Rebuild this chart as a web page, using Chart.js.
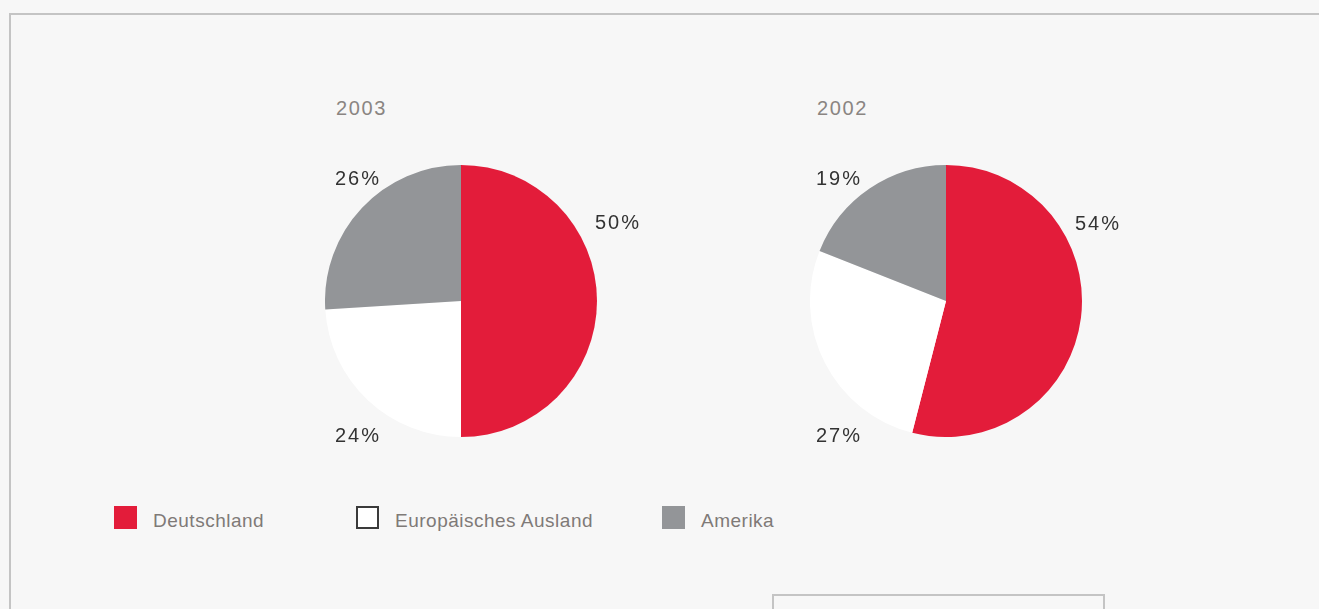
<!DOCTYPE html>
<html>
<head>
<meta charset="utf-8">
<script src="https://cdn.jsdelivr.net/npm/chart.js@4"></script>
<style>
  html, body { margin:0; padding:0; background:#f7f7f7; width:1319px; height:609px; overflow:hidden; font-family:"Liberation Sans", Arial, sans-serif; }
  .frame { position:absolute; left:9px; top:13px; width:1320px; height:620px; border-top:2px solid #c4c4c4; border-left:2px solid #c4c4c4; box-sizing:border-box; }
  .box { position:absolute; left:772px; top:594px; width:333px; height:40px; border:2px solid #c4c4c4; box-sizing:border-box; }
  .pie { position:absolute; width:272px; height:272px; }
  .t { position:absolute; line-height:20px; white-space:nowrap; }
  .year { color:#8a8582; font-size:20px; letter-spacing:1.6px; }
  .pct { color:#333333; font-size:20px; letter-spacing:2px; }
  .leg { color:#7f7a77; font-size:19px; letter-spacing:0.5px; }
  .sw { position:absolute; width:23px; height:23px; box-sizing:border-box; }
</style>
</head>
<body>
<div class="frame"></div>
<div class="box"></div>
<div class="pie" style="left:325px;top:165px"><canvas id="c1"></canvas></div>
<div class="pie" style="left:810px;top:165px"><canvas id="c2"></canvas></div>
<div id="texts"></div>
<script>
const categories = ["Deutschland", "Europäisches Ausland", "Amerika"];
const years = ["2003", "2002"];
const values2003 = [50, 24, 26];
const values2002 = [54, 27, 19];
const colors = ["#e31c3a", "#ffffff", "#939598"];

function makePie(id, values) {
  return new Chart(document.getElementById(id), {
    type: "pie",
    data: { labels: categories, datasets: [{ data: values, backgroundColor: colors, borderWidth: 0 }] },
    options: {
      responsive: true, maintainAspectRatio: false, animation: false,
      layout: { padding: 0 },
      plugins: { legend: { display: false }, tooltip: { enabled: false } }
    }
  });
}
makePie("c1", values2003);
makePie("c2", values2002);

const T = document.getElementById("texts");
function addText(txt, x, y, cls) {
  const d = document.createElement("div");
  d.className = "t " + cls; d.textContent = txt;
  d.style.left = x + "px"; d.style.top = y + "px";
  T.appendChild(d);
}
// year titles
addText(years[0], 336, 98, "year");
addText(years[1], 817, 98, "year");
// percentage labels: [Deutschland, Europ., Amerika]
const pctPos1 = [[595, 212], [335, 425], [335, 168]];
const pctPos2 = [[1075, 213], [816, 425], [816, 168]];
values2003.forEach((v, i) => addText(v + "%", pctPos1[i][0], pctPos1[i][1], "pct"));
values2002.forEach((v, i) => addText(v + "%", pctPos2[i][0], pctPos2[i][1], "pct"));
// legend
const legX = [114, 356, 662];
categories.forEach((c, i) => {
  const s = document.createElement("div");
  s.className = "sw";
  s.style.left = legX[i] + "px"; s.style.top = "506px";
  s.style.background = colors[i];
  if (colors[i] === "#ffffff") s.style.border = "2px solid #3a3a3a";
  T.appendChild(s);
  addText(c, legX[i] + 39, 511, "leg");
});
</script>
</body>
</html>
